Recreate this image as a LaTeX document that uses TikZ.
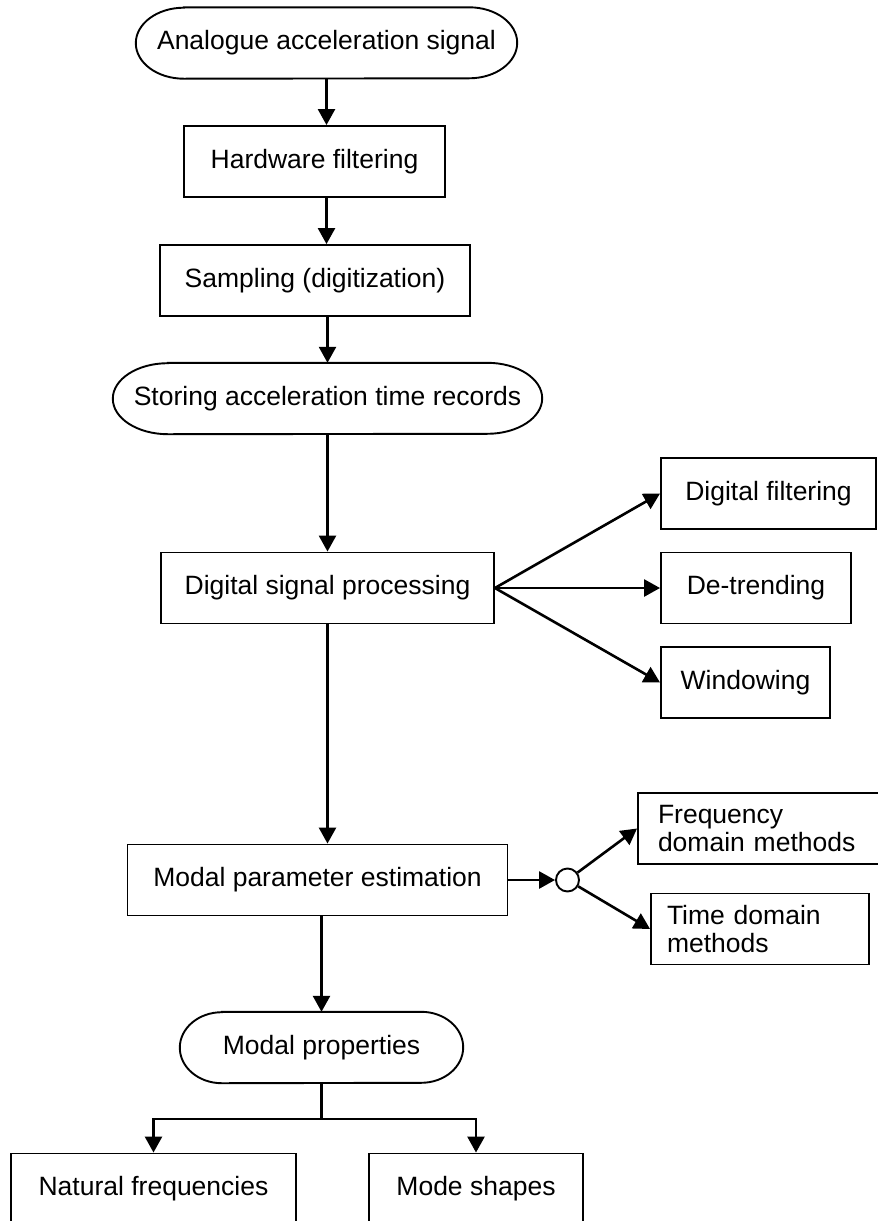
\documentclass[tikz,border=0pt]{standalone}
\usepackage{fontspec}
\setmainfont{Liberation Sans}
\usetikzlibrary{arrows.meta}

\newcommand{\capsule}[2]{%
  \draw[frame] ([xshift=#2pt]#1.north west) -- ([xshift=-#2pt]#1.north east)
    arc[start angle=90,end angle=-90,x radius=#2pt,y radius=35.5pt]
    -- ([xshift=#2pt]#1.south west)
    arc[start angle=270,end angle=90,x radius=#2pt,y radius=35.5pt] -- cycle;}

\begin{document}
\begin{tikzpicture}[x=1pt,y=-1pt,
    font=\fontsize{26.5}{28.5}\selectfont,
    frame/.style={line width=1.9pt},
    box/.style={draw,frame,minimum height=71pt,inner sep=0pt},
    term/.style={minimum height=71pt,inner sep=0pt},
    flow/.style={line width=2.6pt,-{Triangle[length=16pt,width=17pt]}}]

    \useasboundingbox (0,0) rectangle (878,1221);

    % main chain
    \node[term,minimum width=381pt] (analog) at (326.5,43) {Analogue acceleration signal};
    \node[box,minimum width=261pt] (hwfilt) at (314.5,161.5) {Hardware filtering};
    \node[box,minimum width=310pt] (sampling) at (315,280.5) {Sampling (digitization)};
    \node[term,minimum width=429pt] (storing) at (327.5,398.5) {Storing acceleration time records};
    \node[box,minimum width=333pt] (dsp) at (327.5,588) {Digital signal processing};
    \node[box,minimum width=380pt] (modalpar) at (317.5,880) {Modal parameter estimation};
    \node[term,minimum width=283pt] (modalprop) at (321.5,1047.5) {Modal properties};
    \capsule{analog}{48}
    \capsule{storing}{55}
    \capsule{modalprop}{42}

    % side branches
    \node[box,minimum width=215pt] (digfilt) at (768.5,493.5) {Digital filtering};
    \node[box,minimum width=190pt] (detrend) at (756,588) {De-trending};
    \node[box,minimum width=169pt] (window) at (745.5,682.5) {Windowing};
    \node[draw,frame,circle,fill=white,minimum size=23pt,inner sep=0pt] (junc) at (567.5,880) {};
    \node[box,minimum width=242pt,inner xsep=20pt,text width=202pt,align=left] (freqdom) at (759,828.5) {Frequency\\domain methods};
    \node[box,minimum width=218pt,inner xsep=16pt,text width=186pt,align=left] (timedom) at (760,929) {Time domain\\methods};

    % results
    \node[box,minimum width=285pt] (natfreq) at (153.5,1189) {Natural frequencies};
    \node[box,minimum width=214pt] (modeshp) at (476,1189) {Mode shapes};
    \coordinate (split) at (321.5,1119);

    \draw[flow] (analog.south) -- (analog.south |- hwfilt.north);
    \draw[flow] (analog.south |- hwfilt.south) -- (analog.south |- sampling.north);
    \draw[flow] (storing.north |- sampling.south) -- (storing.north);
    \draw[flow] (storing.south) -- (dsp.north);
    \foreach \t in {digfilt,detrend,window}
        \draw[flow] (dsp.east) -- (\t.west);
    \draw[flow] (dsp.south) -- (dsp.south |- modalpar.north);
    \draw[flow] (modalpar) -- (junc);
    \draw[flow] (junc) -- (freqdom.west);
    \draw[flow] (junc) -- (timedom.west);
    \draw[flow] (modalprop.north |- modalpar.south) -- (modalprop.north);
    \draw[line width=2.6pt] (modalprop.south) -- (split);
    \draw[flow] (split) -| (natfreq.north);
    \draw[flow] (split) -| (modeshp.north);
\end{tikzpicture}
\end{document}
